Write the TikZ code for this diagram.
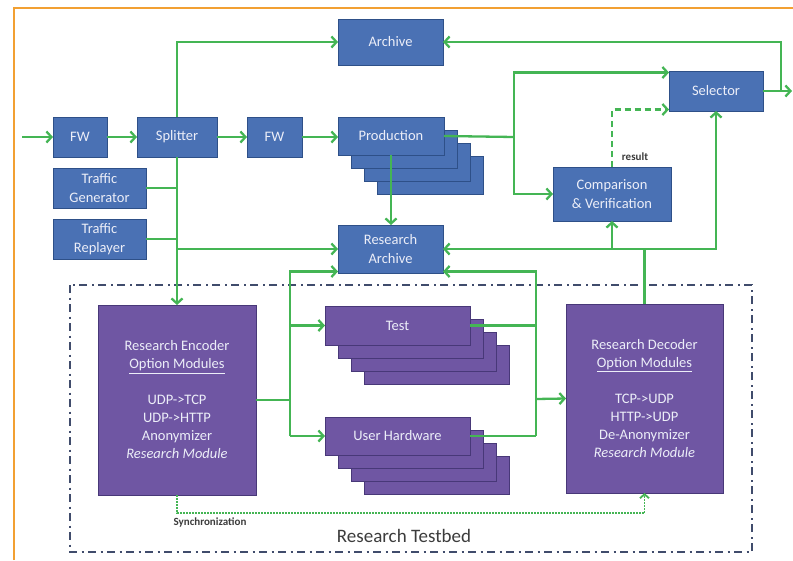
\documentclass[tikz,border=0pt]{standalone}
\usepackage{fontspec}
\setmainfont{Carlito}
\usetikzlibrary{arrows.meta,calc}
\definecolor{boxblue}{RGB}{74,113,180}
\definecolor{blueedge}{RGB}{46,80,136}
\definecolor{boxpurple}{RGB}{111,86,163}
\definecolor{purpleedge}{RGB}{72,56,120}
\definecolor{boxtext}{RGB}{236,238,248}
\definecolor{linkgreen}{RGB}{68,181,84}
\definecolor{frameorange}{RGB}{242,160,50}
\definecolor{testbedline}{RGB}{64,76,108}
\definecolor{labelgray}{RGB}{60,60,60}
\begin{document}
\begin{tikzpicture}[x=1pt,y=-1pt,
  flow/.style={draw=linkgreen, line width=2.3pt},
  arr/.style={flow, -{Straight Barb[length=5pt,width=11pt]}},
  syncline/.style={draw=linkgreen, line width=1.8pt, dash pattern=on 1.6pt off 1.4pt,
    -{Straight Barb[length=4pt,width=9pt]}},
  resultline/.style={dash pattern=on 6pt off 4pt},
  bluebox/.style={draw=blueedge, fill=boxblue, line width=1pt, text=boxtext,
    font=\fontsize{14.5}{19}\selectfont, align=center, inner sep=0pt, outer sep=0pt},
  purplebox/.style={draw=purpleedge, fill=boxpurple, line width=1pt, text=boxtext,
    font=\fontsize{14.5}{18}\selectfont, align=center, inner sep=0pt, outer sep=0pt},
  smalllabel/.style={text=labelgray, font=\bfseries\fontsize{11}{13}\selectfont, inner sep=0pt},
  tblabel/.style={text=labelgray, font=\fontsize{19}{22}\selectfont, inner sep=0pt},
  tbframe/.style={draw=testbedline, line width=2pt,
    dash pattern=on 8pt off 4.5pt on 2pt off 4.5pt},
]
\useasboundingbox (0,0) rectangle (793,560);
\fill[white] (0,0) rectangle (793,560);

% page frame
\draw[frameorange, line width=2.2pt] (14,560) -- (14,8) -- (793,8);

% research testbed frame
\draw[tbframe] (70,285) rectangle (752,552);
\node[tblabel] (tbname) at (404,536) {Research Testbed};

% upper blue blocks
\node[bluebox, minimum width=54pt, minimum height=40pt] (fw1) at (80,137) {FW};
\node[bluebox, minimum width=80pt, minimum height=40pt] (split) at (177,137) {Splitter};
\node[bluebox, minimum width=55pt, minimum height=40pt] (fw2) at (274.5,137) {FW};
\foreach \k in {3,2,1}
  \node[bluebox, minimum width=106pt, minimum height=38pt] (prod-\k) at (391+13*\k,136+13*\k) {};
\node[bluebox, minimum width=106pt, minimum height=38pt] (prod) at (391,136) {Production};
\node[bluebox, minimum width=105pt, minimum height=46pt] (archive) at (390.5,42) {Archive};
\node[bluebox, minimum width=93pt, minimum height=40pt] (tgen) at (99.5,188) {Traffic\\Generator};
\node[bluebox, minimum width=93pt, minimum height=40pt] (trep) at (99.5,239) {Traffic\\Replayer};
\node[bluebox, minimum width=105pt, minimum height=48pt] (rarch) at (390.5,249) {Research\\Archive};
\node[bluebox, minimum width=94pt, minimum height=40pt] (selector) at (716,91) {Selector};
\node[bluebox, minimum width=118pt, minimum height=54pt] (comp) at (612,194) {Comparison\\\&~Verification};

% testbed blocks
\node[purplebox, minimum width=158pt, minimum height=190pt] (enc) at (177,400)
  {Research Encoder\\\underline{Option Modules}\\[18pt]UDP->TCP\\UDP->HTTP\\Anonymizer\\\textit{Research Module}};
\foreach \k in {3,2,1}
  \node[purplebox, minimum width=145pt, minimum height=39pt] (test-\k) at (397.5+13*\k,325.5+13*\k) {};
\node[purplebox, minimum width=145pt, minimum height=39pt] (test) at (397.5,325.5) {Test};
\foreach \k in {3,2,1}
  \node[purplebox, minimum width=145pt, minimum height=38pt] (uhw-\k) at (397.5+13*\k,436+13*\k) {};
\node[purplebox, minimum width=145pt, minimum height=38pt] (uhw) at (397.5,436) {User Hardware};
\node[purplebox, minimum width=157pt, minimum height=189pt] (dec) at (644.5,398.5)
  {Research Decoder\\\underline{Option Modules}\\[18pt]TCP->UDP\\HTTP->UDP\\De-Anonymizer\\\textit{Research Module}};

% junction points
\coordinate (in) at (22,137);
\coordinate (pj) at (514,137);
\coordinate (sj) at (781,91);
\coordinate (out) at (792,91);
\coordinate (ej) at (290,400);
\coordinate (tj) at (536,399);
\coordinate (syncy) at (0,513);

% live traffic path
\draw[arr] (in) -- (fw1.west);
\draw[arr] (fw1.east) -- (split.west);
\draw[arr] (split.east) -- (fw2.west);
\draw[arr] (fw2.east) -- (fw2.east -| prod.west);
\draw[arr] (split.north) |- (archive.west);
\draw[arr] (split.south) -- (split.south |- enc.north);
\draw[flow] (tgen.east) -- (tgen.east -| split.south);
\draw[flow] (trep.east) -- (trep.east -| split.south);
\draw[arr] (split.south |- rarch.west) -- (rarch.west);
\draw[arr] (prod.south) -- (prod.south |- rarch.north);

% production to selector and comparison
\draw[flow] (prod.east) -- (pj);
\draw[arr] (pj) |- ([yshift=-1.5pt]selector.north west);
\draw[arr] (pj) |- (comp.west);
\draw[arr, resultline] (comp.north) |- ([yshift=1.5pt]selector.south west);
\node[smalllabel] (result) at (635,157) {result};

% selector output
\draw[arr] (selector.east) -- (out);
\draw[arr] (sj) |- (archive.east);

% decoder output
\draw[flow] (dec.north) -- (dec.north |- rarch.east);
\draw[arr] (dec.north |- rarch.east) -- (rarch.east);
\draw[arr] (comp.south |- rarch.east) -- (comp.south);
\draw[arr] (dec.north |- rarch.east) -| (selector.south);

% encoder fan-out
\draw[flow] (enc.east) -- (ej);
\draw[arr] (ej |- uhw.west) |- ([yshift=1.5pt]rarch.south west);
\draw[arr] (ej |- test.west) -- (test.west);
\draw[arr] (ej |- uhw.west) -- (uhw.west);

% fan-in to decoder
\draw[flow] (test.east) -- (test.east -| tj);
\draw[flow] (uhw.east) -- (uhw.east -| tj);
\draw[arr] (uhw.east -| tj) |- ([yshift=1.5pt]rarch.south east);
\draw[arr] (tj) -- (dec.west);

% synchronization
\draw[syncline] (enc.south) -- (enc.south |- syncy) -| (dec.south);
\node[smalllabel] (synclabel) at (210,522) {Synchronization};
\end{tikzpicture}
\end{document}
